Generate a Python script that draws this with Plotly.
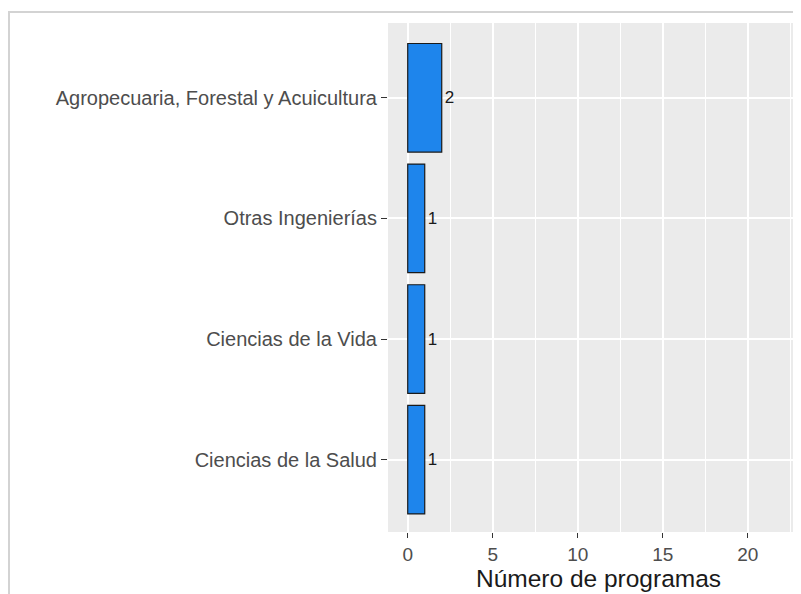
import plotly.graph_objects as go

categories = ["Ciencias de la Salud", "Ciencias de la Vida", "Otras Ingenierías",
              "Agropecuaria, Forestal y Acuicultura"]
values = [1, 1, 1, 2]
x_ticks = [0, 5, 10, 15, 20]

ML, MT, MB, W, H = 380, 15, 70, 801, 594
PW, PH = W - ML, H - MT - MB

fig = go.Figure(go.Bar(
    x=values, y=categories, orientation="h", width=0.9,
    marker=dict(color="#1E85EC", line=dict(color="#1a1a1a", width=1.2)),
    text=[str(v) for v in values], textposition="outside",
    textfont=dict(color="#1a1a1a", size=17, family="Liberation Sans, Arial"),
    cliponaxis=False,
))

fig.update_layout(
    width=W, height=H,
    margin=dict(l=ML, r=0, t=MT, b=MB, autoexpand=False),
    paper_bgcolor="white", plot_bgcolor="#EBEBEB",
    font=dict(family="Liberation Sans, Arial, sans-serif", color="#4D4D4D", size=14),
    showlegend=False,
    xaxis=dict(
        range=[-1.16, 23.6], tickvals=x_ticks, ticktext=[str(t) for t in x_ticks],
        showgrid=True, gridcolor="white", gridwidth=1.6, zeroline=False,
        minor=dict(dtick=2.5, tick0=0, showgrid=True, gridcolor="white", gridwidth=0.8),
        ticks="outside", ticklen=5, tickcolor="#333333", tickwidth=1.2,
        tickfont=dict(size=19, color="#4D4D4D"),
        title=dict(text="Número de programas", font=dict(size=24.5, color="#1a1a1a"), standoff=1),
        showline=False,
    ),
    yaxis=dict(
        type="category", categoryorder="array", categoryarray=categories,
        range=[-0.6, 3.62],
        showgrid=True, gridcolor="white", gridwidth=1.6, zeroline=False,
        ticks="outside", ticklen=6, tickcolor="#333333", tickwidth=1.2,
        tickfont=dict(size=20, color="#4D4D4D"), ticklabelstandoff=0,
        showline=False,
    ),
    shapes=[
        dict(type="line", xref="paper", yref="paper", x0=-ML / PW, x1=1.0,
             y0=1 + 11 / PH, y1=1 + 11 / PH, line=dict(color="#D3D3D3", width=2)),
        dict(type="line", xref="paper", yref="paper", x0=-(ML - 1) / PW, x1=-(ML - 1) / PW,
             y0=1 + 11 / PH, y1=-MB / PH, line=dict(color="#D3D3D3", width=2)),
    ],
)

fig.write_html("out.html")
